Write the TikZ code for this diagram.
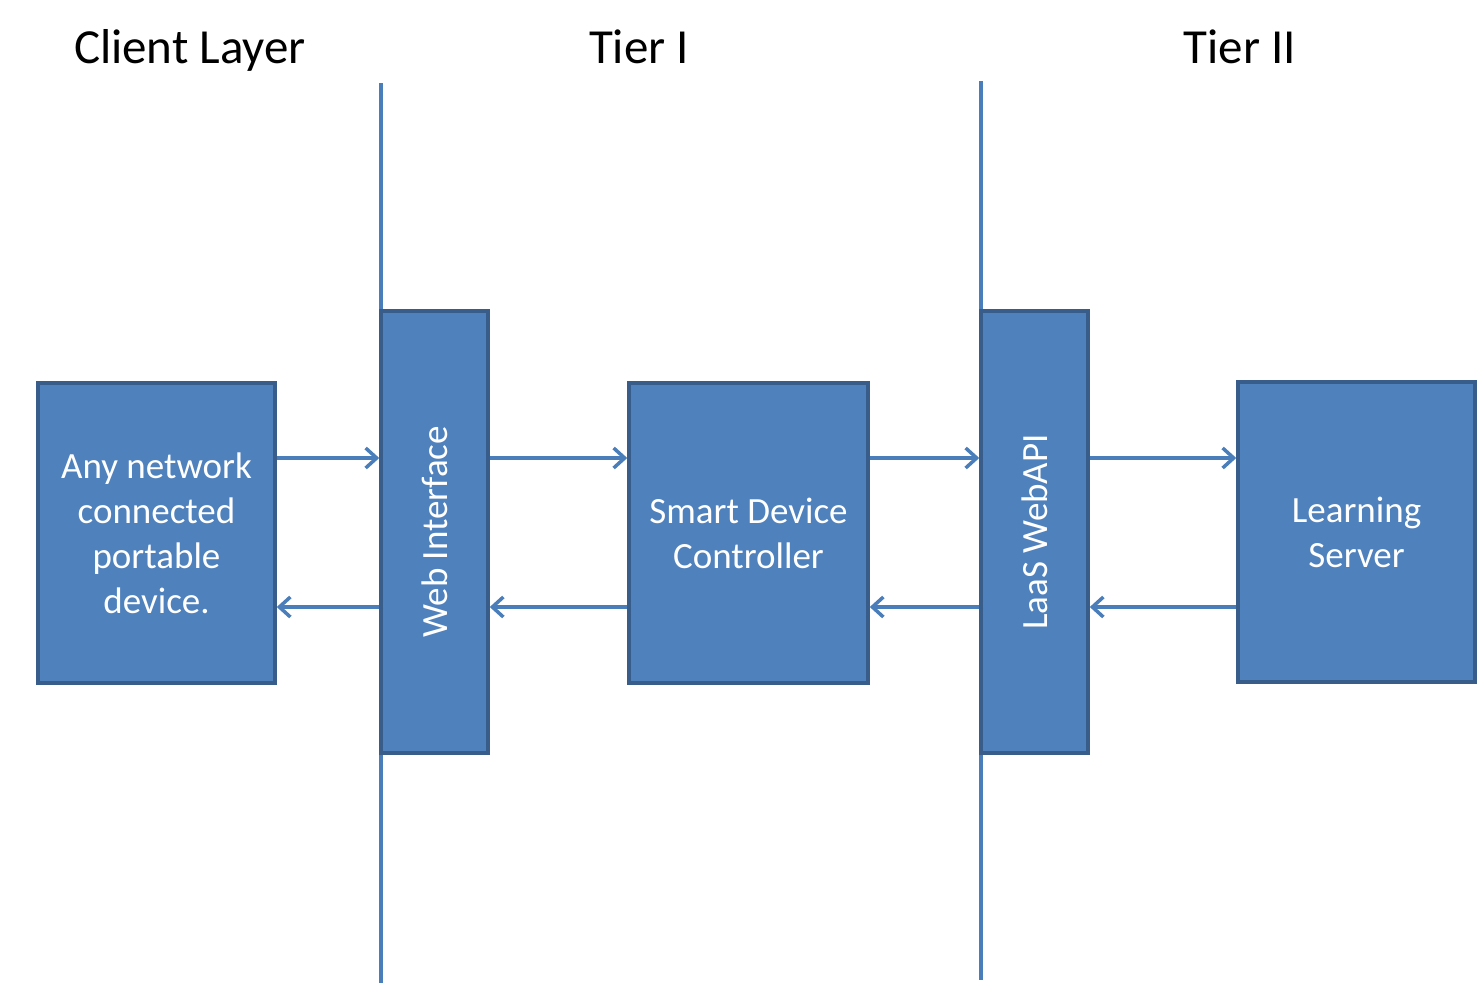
\documentclass[tikz,border=0pt]{standalone}
\usepackage{fontspec}
\setmainfont{Carlito}
\usetikzlibrary{arrows.meta}
\definecolor{boxfill}{HTML}{4F81BD}
\definecolor{boxline}{HTML}{385D8A}
\definecolor{conn}{HTML}{4A7EBB}
\begin{document}
\begin{tikzpicture}[x=1pt,y=-1pt,
  box/.style={draw=boxline,line width=3.5pt,fill=boxfill,text=white,inner sep=0pt,
    font=\fontsize{37}{45}\selectfont,align=center},
  title/.style={font=\fontsize{49}{55}\selectfont,text=black,anchor=base,inner sep=0pt},
  arr/.style={draw=conn,line width=3.5pt,-{Straight Barb[length=11pt,width=20pt,line width=3.5pt]}},
  divider/.style={draw=conn,line width=3.5pt}]
\useasboundingbox (0,0) rectangle (1477,983);
% dividers
\coordinate (d1t) at (381,83); \coordinate (d1b) at (381,983);
\coordinate (d2t) at (981,81); \coordinate (d2b) at (981,980);
\draw[divider] (d1t) -- (d1b);
\draw[divider] (d2t) -- (d2b);
% titles
\node[title] (t1) at (190,63) {Client Layer};
\node[title] (t2) at (639,63) {Tier I};
\node[title] (t3) at (1240,63) {Tier II};
% boxes
\node[box,minimum width=237pt,minimum height=300pt] (client) at (156.5,533) {Any network\\connected\\portable\\device.};
\node[box,minimum width=107pt,minimum height=442pt] (web) at (434.5,532) {};
\node[rotate=90,text=white,font=\fontsize{37}{45}\selectfont] (webt) at (web.center) {Web Interface};
\node[box,minimum width=239pt,minimum height=300pt] (sdc) at (748.5,533) {Smart Device\\Controller};
\node[box,minimum width=107pt,minimum height=442pt] (api) at (1034.5,532) {};
\node[rotate=90,text=white,font=\fontsize{37}{45}\selectfont] (apit) at (api.center) {LaaS WebAPI};
\node[box,minimum width=237pt,minimum height=300pt] (ls) at (1356.5,532) {Learning\\Server};
% arrow rows
\coordinate (top) at (0,458);
\coordinate (bot) at (0,607);
\draw[arr] (client.east |- top) -- (web.west |- top);
\draw[arr] (web.west |- bot) -- (client.east |- bot);
\draw[arr] (web.east |- top) -- (sdc.west |- top);
\draw[arr] (sdc.west |- bot) -- (web.east |- bot);
\draw[arr] (sdc.east |- top) -- (api.west |- top);
\draw[arr] (api.west |- bot) -- (sdc.east |- bot);
\draw[arr] (api.east |- top) -- (ls.west |- top);
\draw[arr] (ls.west |- bot) -- (api.east |- bot);
\end{tikzpicture}
\end{document}
